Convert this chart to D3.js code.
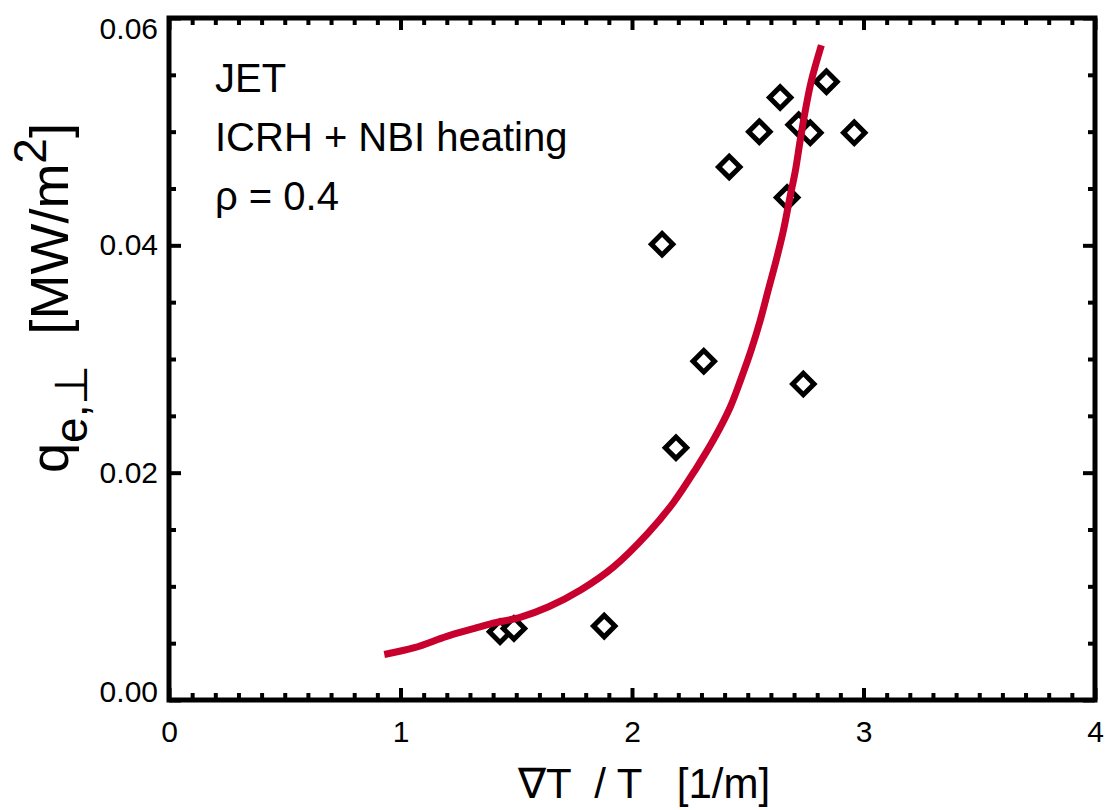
<!DOCTYPE html>
<html>
<head>
<meta charset="utf-8">
<script src="https://cdn.jsdelivr.net/npm/d3@7"></script>
<style>
  body { margin: 0; background: #fff; }
  text { font-family: "Liberation Sans", Arial, Helvetica, sans-serif; fill: #000; }
</style>
</head>
<body>
<svg id="chart" width="1106" height="810"></svg>
<script>
"use strict";

// measured points: grad T / T  vs  q_e,perp
const gradX = [1.43, 1.49, 1.88, 2.13, 2.19, 2.31, 2.42, 2.55, 2.64, 2.67, 2.72, 2.77, 2.74, 2.84, 2.96];
const fluxQ = [0.0060, 0.0063, 0.0065, 0.0401, 0.0222, 0.0298, 0.0469, 0.0500, 0.0530, 0.0442, 0.0506, 0.0499, 0.0278, 0.0544, 0.0499];

// model curve
const fitX = [0.93, 1.06, 1.20, 1.32, 1.39, 1.52, 1.64, 1.78, 1.92, 2.07, 2.18, 2.275, 2.355, 2.425, 2.47, 2.515, 2.554, 2.589, 2.623, 2.654, 2.68, 2.706, 2.727, 2.749, 2.775, 2.818];
const fitQ = [0.0040, 0.0046, 0.0056, 0.0063, 0.0067, 0.0073, 0.0082, 0.0097, 0.0117, 0.0147, 0.0174, 0.0203, 0.0230, 0.0258, 0.0282, 0.0308, 0.0334, 0.0361, 0.0387, 0.0413, 0.0440, 0.0466, 0.0493, 0.0519, 0.0545, 0.0576];

const xTicks = [0, 1, 2, 3, 4];
const yTicks = [0, 0.02, 0.04, 0.06];
const notes = ["JET", "ICRH + NBI heating", "\u03c1 = 0.4"];

const LEFT = 169, RIGHT = 1095, TOP = 18, BOTTOM = 700;
const MAJOR = 12, MINOR = 7;

const svg = d3.select("#chart");

const x = d3.scaleLinear().domain([0, 4]).range([LEFT, RIGHT]);
const y = d3.scaleLinear().domain([0, 0.06]).range([BOTTOM, TOP]);

const xMinor = d3.range(0, 41).map(function(i) { return i / 10; }).filter(function(v) { return xTicks.indexOf(v) < 0; });
const yMinor = d3.range(0, 13).map(function(i) { return i * 0.005; }).filter(function(v, i) { return i % 4 !== 0; });

function styleAxis(g) {
  g.select(".domain").remove();
  g.selectAll(".tick line").attr("stroke", "#000").attr("stroke-width", 4);
  g.selectAll(".tick text").attr("font-size", 30).attr("fill", "#000");
}

// bottom
svg.append("g").attr("transform", "translate(0," + BOTTOM + ")")
  .call(d3.axisBottom(x).tickValues(xMinor).tickSizeInner(-MINOR).tickSizeOuter(0).tickFormat(""))
  .call(styleAxis);
svg.append("g").attr("transform", "translate(0," + BOTTOM + ")")
  .call(d3.axisBottom(x).tickValues(xTicks).tickSizeInner(-MAJOR).tickSizeOuter(0).tickPadding(21).tickFormat(d3.format("d")))
  .call(styleAxis);

// top
svg.append("g").attr("transform", "translate(0," + TOP + ")")
  .call(d3.axisTop(x).tickValues(xMinor).tickSizeInner(-MINOR).tickSizeOuter(0).tickFormat(""))
  .call(styleAxis);
svg.append("g").attr("transform", "translate(0," + TOP + ")")
  .call(d3.axisTop(x).tickValues(xTicks).tickSizeInner(-MAJOR).tickSizeOuter(0).tickFormat(""))
  .call(styleAxis);

// left
svg.append("g").attr("transform", "translate(" + LEFT + ",0)")
  .call(d3.axisLeft(y).tickValues(yMinor).tickSizeInner(-MINOR).tickSizeOuter(0).tickFormat(""))
  .call(styleAxis);
const yAxisG = svg.append("g").attr("transform", "translate(" + LEFT + ",0)")
  .call(d3.axisLeft(y).tickValues(yTicks).tickSizeInner(-MAJOR).tickSizeOuter(0).tickPadding(11).tickFormat(d3.format(".2f")))
  .call(styleAxis);
// end labels sit inside the frame
yAxisG.selectAll(".tick text").attr("y", function(d) {
  if (d === 0) return -8;
  if (d === 0.06) return 11;
  return 0;
});

// right
svg.append("g").attr("transform", "translate(" + RIGHT + ",0)")
  .call(d3.axisRight(y).tickValues(yMinor).tickSizeInner(-MINOR).tickSizeOuter(0).tickFormat(""))
  .call(styleAxis);
svg.append("g").attr("transform", "translate(" + RIGHT + ",0)")
  .call(d3.axisRight(y).tickValues(yTicks).tickSizeInner(-MAJOR).tickSizeOuter(0).tickFormat(""))
  .call(styleAxis);

// frame
svg.append("rect")
  .attr("x", LEFT).attr("y", TOP)
  .attr("width", RIGHT - LEFT).attr("height", BOTTOM - TOP)
  .attr("fill", "none").attr("stroke", "#000").attr("stroke-width", 5);

// diamonds
const diamond = d3.symbol().type(d3.symbolSquare).size(230);
svg.append("g").selectAll("path")
  .data(gradX.map(function(v, i) { return [v, fluxQ[i]]; }))
  .enter().append("path")
  .attr("d", diamond)
  .attr("transform", function(d) { return "translate(" + x(d[0]) + "," + y(d[1]) + ") rotate(45)"; })
  .attr("fill", "#fff")
  .attr("stroke", "#000")
  .attr("stroke-width", 5);

// fit curve
const line = d3.line()
  .x(function(d) { return x(d[0]); })
  .y(function(d) { return y(d[1]); })
  .curve(d3.curveCatmullRom);
svg.append("path")
  .datum(fitX.map(function(v, i) { return [v, fitQ[i]]; }))
  .attr("d", line)
  .attr("fill", "none")
  .attr("stroke", "#c8002e")
  .attr("stroke-width", 7)
  .attr("stroke-linecap", "butt");

// annotations
svg.append("g").selectAll("text")
  .data(notes)
  .enter().append("text")
  .attr("x", 215)
  .attr("y", function(d, i) { return 92 + i * 59; })
  .attr("font-size", 40)
  .text(function(d) { return d; });

// x title
svg.append("text")
  .attr("x", 518).attr("y", 798)
  .attr("font-size", 42)
  .style("white-space", "pre")
  .text("\u2207T  / T   [1/m]");

// y title
const yTitle = svg.append("text")
  .attr("transform", "translate(68,473) rotate(-90)")
  .attr("font-size", 54)
  .style("white-space", "pre");
yTitle.append("tspan").text("q");
yTitle.append("tspan").attr("dy", 19).attr("font-size", 46).text("e,\u22a5");
yTitle.append("tspan").attr("dy", -19).text("  [MW/m");
yTitle.append("tspan").attr("dy", -22).attr("font-size", 46).text("2");
yTitle.append("tspan").attr("dy", 22).text("]");
</script>
</body>
</html>
